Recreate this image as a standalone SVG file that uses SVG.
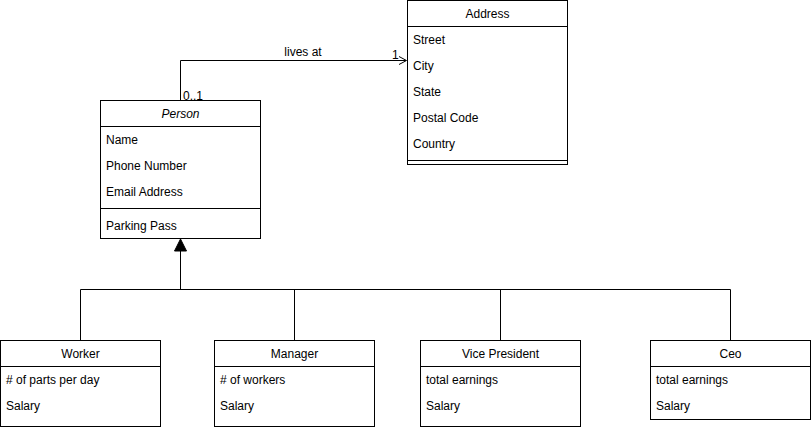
<svg xmlns="http://www.w3.org/2000/svg" width="811" height="427" viewBox="0 0 811 427">
<style>
.box{fill:#fff;stroke:#000;stroke-width:1}
.ln{stroke:#000;stroke-width:1;fill:none}
text{font-family:"Liberation Sans",Arial,sans-serif;font-size:12px;fill:#000}
.c{text-anchor:middle}
</style>
<rect width="811" height="427" fill="#fff"/>
<g id="connectors">
<path class="ln" d="M180.5 100.5 V60.5 H406"/>
<path class="ln" d="M399 56.5 L406.5 60.5 L399 64.5"/>
<text x="303" y="56" class="c">lives at</text>
<text x="392" y="59">1</text>
<text x="183" y="100">0..1</text>
<path class="ln" d="M180.5 251 V289.5 M80.5 289.5 H730.5 M80.5 289.5 V340.5 M294.5 289.5 V340.5 M500.5 289.5 V340.5 M730.5 289.5 V340.5"/>
<path d="M180.5 239 L174.5 251 L186.5 251 Z" fill="#000" stroke="#000"/>
</g>
<g id="address">
<rect class="box" x="407.5" y="0.5" width="160" height="164"/>
<path class="ln" d="M407.5 26.5 H567.5 M407.5 160.5 H567.5"/>
<text x="487.5" y="18" class="c">Address</text>
<text x="413" y="44">Street</text>
<text x="413" y="70">City</text>
<text x="413" y="96">State</text>
<text x="413" y="122">Postal Code</text>
<text x="413" y="148">Country</text>
</g>
<g id="person">
<rect class="box" x="100.5" y="100.5" width="160" height="138"/>
<path class="ln" d="M100.5 126.5 H260.5 M100.5 208.5 H260.5"/>
<text x="180.5" y="118" class="c" font-style="italic">Person</text>
<text x="106" y="144">Name</text>
<text x="106" y="170">Phone Number</text>
<text x="106" y="196">Email Address</text>
<text x="106" y="230">Parking Pass</text>
</g>
<g id="worker">
<rect class="box" x="0.5" y="340.5" width="160" height="86"/>
<path class="ln" d="M0.5 366.5 H160.5"/>
<text x="80.5" y="358" class="c">Worker</text>
<text x="6" y="384"># of parts per day</text>
<text x="6" y="410">Salary</text>
</g>
<g id="manager">
<rect class="box" x="214.5" y="340.5" width="160" height="86"/>
<path class="ln" d="M214.5 366.5 H374.5"/>
<text x="294.5" y="358" class="c">Manager</text>
<text x="220" y="384"># of workers</text>
<text x="220" y="410">Salary</text>
</g>
<g id="vicepresident">
<rect class="box" x="420.5" y="340.5" width="160" height="86"/>
<path class="ln" d="M420.5 366.5 H580.5"/>
<text x="500.5" y="358" class="c">Vice President</text>
<text x="426" y="384">total earnings</text>
<text x="426" y="410">Salary</text>
</g>
<g id="ceo">
<rect class="box" x="650.5" y="340.5" width="160" height="79"/>
<path class="ln" d="M650.5 366.5 H810.5"/>
<text x="730.5" y="358" class="c">Ceo</text>
<text x="656" y="384">total earnings</text>
<text x="656" y="410">Salary</text>
</g>
</svg>
